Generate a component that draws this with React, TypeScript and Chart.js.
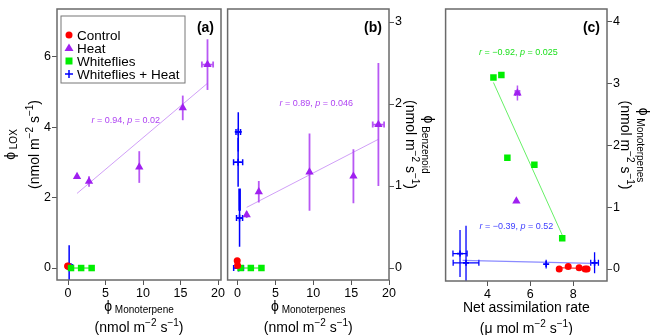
import React, { useEffect, useRef } from "react";
import { Chart, registerables } from "chart.js";
Chart.register(...registerables);

const FONT = "'Liberation Sans', Arial, Helvetica, sans-serif";

// ---------------- Data ----------------
const groupNames = ["Control", "Heat", "Whiteflies", "Whiteflies + Heat"];

// panels (a)/(b): x = phi Monoterpene(s)
const monoControl = [0.0, -0.05];
const monoHeat = [1.2, 2.8, 9.5, 15.3, 18.6];
const monoHeatErr = [0, 0, 0, 0, 0.75];
const monoWhiteflies = [0.4, 1.75, 3.15];
const monoWfHeatA = [0.15, 0.3];
const monoWfHeatAErr = [0.25, 0.3];
const monoWfHeatB = [0.09, 0.07, 0.26, 0.13];
const monoWfHeatBErr = [0.3, 0.6, 0.4, 0.65];

// panel (a): y = phi LOX
const loxControl = [0.05, 0.06];
const loxHeat = [2.6, 2.46, 2.87, 4.55, 5.78];
const loxHeatErr = [0, 0.15, 0.45, 0.35, 0.72];
const loxWhiteflies = [0, 0, 0];
const loxWfHeat = [0.05, 0.03];
const loxWfHeatErr = [0.6, 0];

// panel (b): y = phi Benzenoid
const benzControl = [0.03, 0.09];
const benzHeat = [0.65, 0.93, 1.17, 1.12, 1.75];
const benzHeatErr = [0.04, 0.13, 0.47, 0.33, 0.75];
const benzWhiteflies = [0, 0, 0];
const benzWfHeat = [1.66, 1.29, 0.61, 0.0];
const benzWfHeatErr = [0.24, 0.3, 0.35, 0];

// panel (c): x = net assimilation rate, y = phi Monoterpenes
const assimControl = [7.35, 7.77, 8.28, 8.56, 8.65];
const monoCControl = [0.0, 0.04, 0.02, 0.0, 0.0];
const assimHeat = [5.4, 5.35];
const assimHeatErr = [0.1, 0];
const monoCHeat = [2.85, 1.1];
const monoCHeatErr = [0.12, 0];
const assimWhiteflies = [4.28, 4.65, 4.93, 6.19, 7.49];
const monoCWhiteflies = [3.1, 3.14, 1.8, 1.69, 0.5];
const assimWfHeat = [2.72, 3.0, 6.74, 9.0];
const assimWfHeatErr = [0.33, 0.6, 0, 0.18];
const monoCWfHeat = [0.25, 0.1, 0.08, 0.1];
const monoCWfHeatErr = [0.38, 0.6, 0.07, 0.17];

// regression lines (end points)
const fitAHeatX = [1.2, 18.6];
const fitAHeatY = [2.12, 5.25];
const fitBHeatX = [1.2, 18.6];
const fitBHeatY = [0.74, 1.57];
const fitWfX = [0.4, 3.15];
const fitWfY = [0, 0];
const fitBWfHeatX = [0.26, 0.27];
const fitBWfHeatY = [0.97, 0.7];
const fitCWfX = [4.28, 7.49];
const fitCWfY = [3.02, 0.55];
const fitCWfHeatX = [2.84, 8.9];
const fitCWfHeatY = [0.14, 0.09];
const fitCCtrlX = [7.35, 8.65];
const fitCCtrlY = [0.02, 0.01];

// correlation statistics
const statA = ["0.94", "0.02"];
const statB = ["0.89", "0.046"];
const statCWf = ["\u22120.92", "0.025"];
const statCWfHeat = ["\u22120.39", "0.52"];

// ticks
const ticksMono = [0, 5, 10, 15, 20];
const ticksLox = [0, 2, 4, 6];
const ticksBenz = [0, 1, 2, 3];
const ticksAssim = [4, 6, 8];
const ticksMonoC = [0, 1, 2, 3, 4];

// ---------------- Styling ----------------
const RED = "#FF0000";
const PURPLE = "#A020F0";
const GREEN = "#00EE00";
const BLUE = "#0000FF";
const FRAME = "#6a6a6a";

const pts = (xs: number[], ys: number[]) => xs.map((x, i) => ({ x, y: ys[i] }));

function scatterDs(label: string, xs: number[], ys: number[], color: string, style: string, radius: number, errX?: number[], errY?: number[], errColor?: string, errWidth?: number): any {
  return {
    type: "scatter",
    label,
    data: pts(xs, ys),
    backgroundColor: color,
    borderColor: color,
    pointStyle: style,
    pointRadius: radius,
    pointBorderWidth: style === "cross" ? 1.6 : 0,
    showLine: false,
    errX,
    errY,
    errColor: errColor || color,
    errWidth: errWidth || 1.5,
    order: 1,
  };
}

function lineDs(xs: number[], ys: number[], color: string, width: number): any {
  return {
    type: "line",
    label: "",
    data: pts(xs, ys),
    borderColor: color,
    backgroundColor: color,
    borderWidth: width,
    pointRadius: 0,
    showLine: true,
    fill: false,
    order: 2,
  };
}

type Seg = { t: string; s?: number; it?: boolean; b?: boolean; dy?: number };

function fontOf(sg: Seg) {
  return `${sg.it ? "italic " : ""}${sg.b ? "bold " : ""}${sg.s || 14}px ${FONT}`;
}

function drawRich(ctx: CanvasRenderingContext2D, segs: Seg[], x: number, y: number, rot: number, color: string, align: "center" | "left" | "right" = "center") {
  ctx.save();
  ctx.translate(x, y);
  ctx.rotate(rot);
  ctx.fillStyle = color;
  ctx.textBaseline = "alphabetic";
  ctx.textAlign = "left";
  const widths = segs.map((sg) => {
    ctx.font = fontOf(sg);
    return ctx.measureText(sg.t).width;
  });
  const total = widths.reduce((a, b) => a + b, 0);
  let cx = align === "center" ? -total / 2 : align === "right" ? -total : 0;
  segs.forEach((sg, i) => {
    ctx.font = fontOf(sg);
    ctx.fillText(sg.t, cx, sg.dy || 0);
    cx += widths[i];
  });
  ctx.restore();
}

const phiSegs = (sub: string): Seg[] => [
  { t: "\u03d5", s: 14 },
  { t: " " + sub, s: 10, dy: 2 },
];
const unitSegs = (pre: string): Seg[] => [
  { t: pre + " m", s: 14 },
  { t: "\u22122", s: 10, dy: -6 },
  { t: " s", s: 14 },
  { t: "\u22121", s: 10, dy: -6 },
  { t: ")", s: 14 },
];
const statSegs = (s: string[]): Seg[] => [
  { t: "r", s: 9, it: true },
  { t: " = " + s[0] + ", ", s: 9 },
  { t: "p", s: 9, it: true },
  { t: " = " + s[1], s: 9 },
];

const errorBars = {
  id: "errorBars",
  beforeDatasetsDraw(chart: any) {
    const { ctx, chartArea: a } = chart;
    const xs = chart.scales.x;
    const ys = chart.scales.y;
    ctx.save();
    ctx.beginPath();
    ctx.rect(a.left, a.top, a.right - a.left, a.bottom - a.top);
    ctx.clip();
    chart.data.datasets.forEach((ds: any) => {
      if (!ds.errX && !ds.errY) return;
      ctx.strokeStyle = ds.errColor;
      ctx.lineWidth = ds.errWidth;
      ds.data.forEach((p: any, i: number) => {
        const px = xs.getPixelForValue(p.x);
        const py = ys.getPixelForValue(p.y);
        const ey = ds.errY ? ds.errY[i] : 0;
        if (ey > 0) {
          ctx.beginPath();
          ctx.moveTo(px, ys.getPixelForValue(p.y + ey));
          ctx.lineTo(px, ys.getPixelForValue(p.y - ey));
          ctx.stroke();
        }
        const ex = ds.errX ? ds.errX[i] : 0;
        if (ex > 0) {
          const x1 = xs.getPixelForValue(p.x - ex);
          const x2 = xs.getPixelForValue(p.x + ex);
          ctx.beginPath();
          ctx.moveTo(x1, py);
          ctx.lineTo(x2, py);
          ctx.moveTo(x1, py - 3);
          ctx.lineTo(x1, py + 3);
          ctx.moveTo(x2, py - 3);
          ctx.lineTo(x2, py + 3);
          ctx.stroke();
        }
      });
    });
    ctx.restore();
  },
};

type Decor = {
  label: string;
  xTitle: Seg[][];
  yTitle: { segs: Seg[]; off: number }[];
  ySide: "left" | "right";
  stats: { x: number; y: number; segs: Seg[]; color: string }[];
  legend?: boolean;
};

function makeDecor(cfg: Decor) {
  return {
    id: "decor",
    afterDraw(chart: any) {
      const { ctx, chartArea: a } = chart;
      const xs = chart.scales.x;
      const ys = chart.scales.y;
      // frame
      ctx.save();
      ctx.strokeStyle = FRAME;
      ctx.lineWidth = 1.5;
      ctx.strokeRect(a.left, a.top, a.right - a.left, a.bottom - a.top);
      ctx.restore();
      // panel label
      drawRich(ctx, [{ t: cfg.label, s: 14, b: true }], a.right - 7, a.top + 23, 0, "#000", "right");
      // stats
      cfg.stats.forEach((st) => {
        drawRich(ctx, st.segs, xs.getPixelForValue(st.x), ys.getPixelForValue(st.y) + 3, 0, st.color);
      });
      // x titles
      const cx = (a.left + a.right) / 2;
      drawRich(ctx, cfg.xTitle[0], cx, a.bottom + 31, 0, "#000");
      drawRich(ctx, cfg.xTitle[1], cx, a.bottom + 52, 0, "#000");
      // y titles
      const cy = (a.top + a.bottom) / 2;
      cfg.yTitle.forEach((yt) => {
        if (cfg.ySide === "left") drawRich(ctx, yt.segs, a.left - yt.off, cy, -Math.PI / 2, "#000");
        else drawRich(ctx, yt.segs, a.right + yt.off, cy, Math.PI / 2, "#000");
      });
      // legend
      if (cfg.legend) {
        const lx = a.left + 4;
        const ly = a.top + 7;
        ctx.save();
        ctx.fillStyle = "#fff";
        ctx.fillRect(lx, ly, 124, 67);
        ctx.strokeStyle = "#777";
        ctx.lineWidth = 1;
        ctx.strokeRect(lx, ly, 124, 67);
        const cols = [RED, PURPLE, GREEN, BLUE];
        groupNames.forEach((name, i) => {
          const my = ly + 19 + i * 13;
          const mx = lx + 8;
          ctx.fillStyle = cols[i];
          ctx.strokeStyle = cols[i];
          ctx.beginPath();
          if (i === 0) {
            ctx.arc(mx, my, 3.5, 0, Math.PI * 2);
            ctx.fill();
          } else if (i === 1) {
            ctx.moveTo(mx, my - 4.5);
            ctx.lineTo(mx + 4.5, my + 3);
            ctx.lineTo(mx - 4.5, my + 3);
            ctx.closePath();
            ctx.fill();
          } else if (i === 2) {
            ctx.rect(mx - 3.5, my - 3.5, 7, 7);
            ctx.fill();
          } else {
            ctx.lineWidth = 1.5;
            ctx.moveTo(mx - 4, my);
            ctx.lineTo(mx + 4, my);
            ctx.moveTo(mx, my - 4);
            ctx.lineTo(mx, my + 4);
            ctx.stroke();
          }
          drawRich(ctx, [{ t: name, s: 13.5 }], lx + 16, my + 5, 0, "#000", "left");
        });
        ctx.restore();
      }
    },
  };
}

function axis(min: number, max: number, ticks: number[], pos: string, size: number, showLabels: boolean): any {
  const horizontal = pos === "bottom";
  return {
    type: "linear",
    position: pos,
    min,
    max,
    afterBuildTicks: (s: any) => {
      s.ticks = ticks.map((v) => ({ value: v }));
    },
    afterFit: (s: any) => {
      if (horizontal) s.height = size;
      else s.width = size;
      s.paddingLeft = 0;
      s.paddingRight = 0;
      s.paddingTop = 0;
      s.paddingBottom = 0;
    },
    grid: { display: showLabels, drawOnChartArea: false, drawTicks: true, tickLength: 5, color: "#555", lineWidth: 1 },
    border: { display: false },
    ticks: { display: showLabels, color: "#000", font: { family: FONT, size: 12.5 }, padding: 1, maxRotation: 0, autoSkip: false },
  };
}

type PanelProps = {
  left: number;
  width: number;
  datasets: any[];
  x: any;
  y: any;
  padding: any;
  decor: Decor;
};

function Panel(props: PanelProps) {
  const ref = useRef<HTMLCanvasElement | null>(null);
  useEffect(() => {
    if (!ref.current) return;
    const scales: any = { x: props.x, y: props.y };
    const chart = new Chart(ref.current, {
      type: "scatter",
      data: { datasets: props.datasets },
      options: {
        responsive: false,
        animation: false,
        devicePixelRatio: 1,
        layout: { padding: props.padding },
        scales,
        plugins: { legend: { display: false }, tooltip: { enabled: false }, title: { display: false } },
      },
      plugins: [errorBars, makeDecor(props.decor)],
    } as any);
    return () => chart.destroy();
  }, []);
  return (
    <canvas
      ref={ref}
      width={props.width}
      height={335}
      style={{ position: "absolute", left: props.left, top: 0, width: props.width, height: 335 }}
    />
  );
}

export default function App() {
  const purpleErr = "rgba(160,32,240,0.75)";
  const purpleFit = "rgba(170,80,240,0.55)";

  const dsA = [
    lineDs(fitAHeatX, fitAHeatY, purpleFit, 1),
    lineDs(fitWfX, fitWfY, GREEN, 1),
    scatterDs("Whiteflies", monoWhiteflies, loxWhiteflies, GREEN, "rect", 4.6),
    scatterDs("Heat", monoHeat, loxHeat, PURPLE, "triangle", 4.8, monoHeatErr, loxHeatErr, purpleErr, 1.8),
    scatterDs("Control", monoControl, loxControl, RED, "circle", 3.5),
    scatterDs("Whiteflies + Heat", monoWfHeatA, loxWfHeat, BLUE, "cross", 3.5, monoWfHeatAErr, loxWfHeatErr, BLUE, 1.5),
  ];
  const dsB = [
    lineDs(fitBHeatX, fitBHeatY, purpleFit, 1),
    lineDs(fitWfX, fitWfY, GREEN, 1),
    lineDs(fitBWfHeatX, fitBWfHeatY, BLUE, 2.5),
    scatterDs("Control", monoControl, benzControl, RED, "circle", 3.5),
    scatterDs("Whiteflies", monoWhiteflies, benzWhiteflies, GREEN, "rect", 4.6),
    scatterDs("Heat", monoHeat, benzHeat, PURPLE, "triangle", 4.8, monoHeatErr, benzHeatErr, purpleErr, 1.8),
    scatterDs("Whiteflies + Heat", monoWfHeatB, benzWfHeat, BLUE, "cross", 3.5, monoWfHeatBErr, benzWfHeatErr, BLUE, 1.5),
  ];
  const dsC = [
    lineDs(fitCWfX, fitCWfY, "rgba(0,230,0,0.6)", 1),
    lineDs(fitCWfHeatX, fitCWfHeatY, "rgba(60,60,255,0.6)", 1.2),
    lineDs(fitCCtrlX, fitCCtrlY, RED, 1),
    scatterDs("Control", assimControl, monoCControl, RED, "circle", 3.5),
    scatterDs("Heat", assimHeat, monoCHeat, PURPLE, "triangle", 4.8, assimHeatErr, monoCHeatErr, purpleErr, 1.5),
    scatterDs("Whiteflies", assimWhiteflies, monoCWhiteflies, GREEN, "rect", 4.6),
    scatterDs("Whiteflies + Heat", assimWfHeat, monoCWfHeat, BLUE, "cross", 3, assimWfHeatErr, monoCWfHeatErr, BLUE, 1.3),
  ];

  return (
    <div style={{ position: "absolute", left: 0, top: 0, width: 650, height: 335, background: "#fff", overflow: "hidden" }}>
      <Panel
        left={0}
        width={230}
        datasets={dsA}
        x={axis(-1.47, 20.4, ticksMono, "bottom", 55, true)}
        y={axis(-0.34, 7.36, ticksLox, "left", 57, true)}
        padding={{ top: 9, right: 9, left: 0, bottom: 0 }}
        decor={{
          label: "(a)",
          xTitle: [phiSegs("Monoterpene"), unitSegs("(nmol")],
          yTitle: [
            { segs: phiSegs("LOX"), off: 42 },
            { segs: unitSegs("(nmol"), off: 18 },
          ],
          ySide: "left",
          stats: [{ x: 7.7, y: 4.2, segs: statSegs(statA), color: "rgba(160,32,240,0.85)" }],
          legend: true,
        }}
      />
      <Panel
        left={222}
        width={218}
        datasets={dsB}
        x={axis(-1.32, 20, ticksMono, "bottom", 55, true)}
        y={axis(-0.146, 3.159, ticksBenz, "right", 51, true)}
        padding={{ top: 9, right: 0, left: 5, bottom: 0 }}
        decor={{
          label: "(b)",
          xTitle: [phiSegs("Monoterpenes"), unitSegs("(nmol")],
          yTitle: [
            { segs: phiSegs("Benzenoid"), off: 35 },
            { segs: unitSegs("(nmol"), off: 17 },
          ],
          ySide: "right",
          stats: [{ x: 10.4, y: 2.01, segs: statSegs(statB), color: "rgba(160,32,240,0.85)" }],
        }}
      />
      <Panel
        left={440}
        width={210}
        datasets={dsC}
        x={axis(2.047, 9.58, ticksAssim, "bottom", 54, true)}
        y={axis(-0.194, 4.21, ticksMonoC, "right", 43, true)}
        padding={{ top: 9, right: 0, left: 5, bottom: 0 }}
        decor={{
          label: "(c)",
          xTitle: [[{ t: "Net assimilation rate", s: 14 }], unitSegs("(\u03bc mol")],
          yTitle: [
            { segs: phiSegs("Monoterpenes"), off: 32 },
            { segs: unitSegs("(nmol"), off: 14 },
          ],
          ySide: "right",
          stats: [
            { x: 5.44, y: 3.51, segs: statSegs(statCWf), color: "rgba(0,220,0,0.9)" },
            { x: 5.35, y: 0.7, segs: statSegs(statCWfHeat), color: "rgba(40,40,255,0.9)" },
          ],
        }}
      />
    </div>
  );
}
